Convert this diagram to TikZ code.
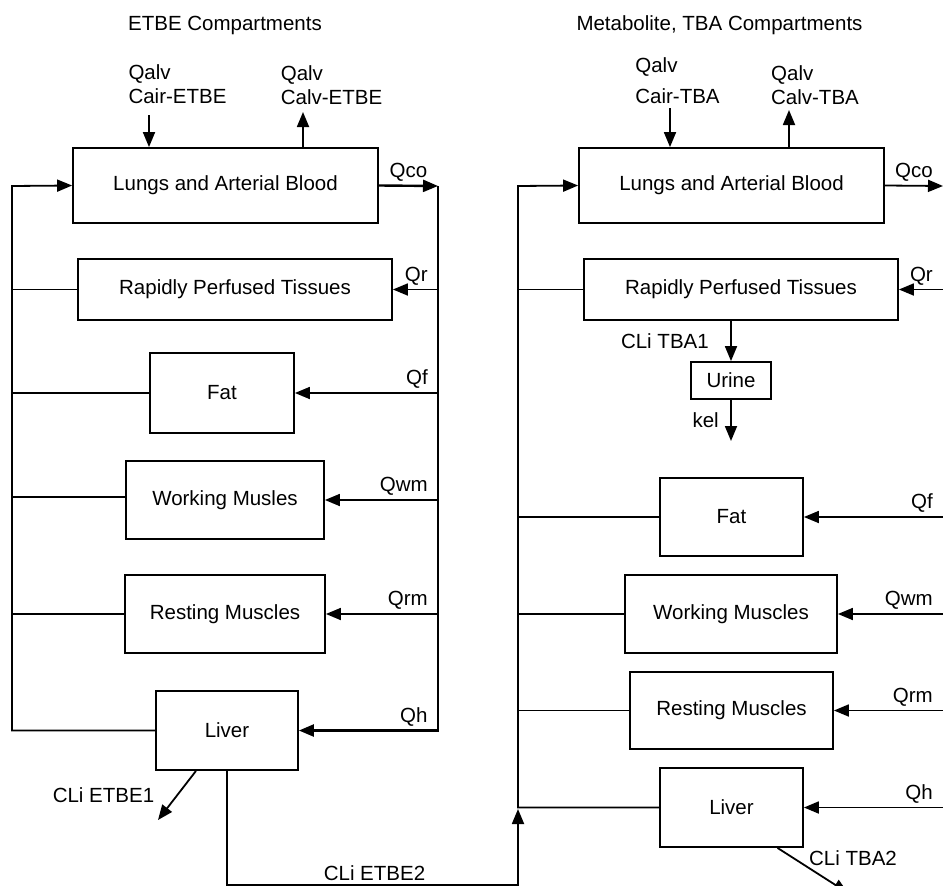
\documentclass[tikz,border=0pt]{standalone}
\usepackage{fontspec}
\setmainfont{Liberation Sans}
\usetikzlibrary{arrows.meta,positioning}

\begin{document}
\begin{tikzpicture}[x=1pt, y=-1pt, line width=1.8pt,
				>={Triangle[length=15pt,width=12pt]},
				box/.style={rectangle, draw, inner sep=0pt, font=\fontsize{20.5}{24}\selectfont, align=center},
				lbl/.style={font=\fontsize{20.5}{24}\selectfont, align=left}]
				\useasboundingbox (0,0) rectangle (943,886);
				
				% titles
				\node[lbl] (titleE) at (225,25) {ETBE Compartments};
				\node[lbl] (titleT) at (719.5,25) {Metabolite, TBA Compartments};
				
				% ETBE compartments
				\node[box, minimum width=305pt, minimum height=75pt] (lungE) at (225.5,185.5) {Lungs and Arterial Blood};
				\node[box, minimum width=314pt, minimum height=61pt] (rapidE) at (235,289.5) {Rapidly Perfused Tissues};
				\node[box, minimum width=144pt, minimum height=80pt] (fatE) at (222,393) {Fat};
				\node[box, minimum width=198pt, minimum height=78pt] (wmE) at (225,500) {Working Musles};
				\node[box, minimum width=200pt, minimum height=78pt] (rmE) at (225,614) {Resting Muscles};
				\node[box, minimum width=142pt, minimum height=79pt] (liverE) at (227,730.5) {Liver};
				
				\node[lbl] (inE) at (177.5,84) {Qalv\\Cair-ETBE};
				\node[lbl] (outE) at (331.5,85.5) {Qalv\\Calv-ETBE};
				\coordinate (cairE) at (149,115);
				\coordinate (calvE) at (303,112);
				\draw[->] (cairE) -- (cairE |- lungE.north);
				\draw[->] (calvE |- lungE.north) -- (calvE);
				
				\coordinate (eTL) at (12,186);
				\coordinate (eRT) at (438,186);
				\draw[->, line width=2.4pt] (lungE.east) -- node[lbl, above] {Qco} (eRT);
				\draw[->, line width=2.4pt] (eRT) -- (eRT |- liverE.east) node[lbl, above left, xshift=-6pt] {Qh} -- (liverE.east);
				\foreach \b/\q in {rapidE/Qr, fatE/Qf, wmE/Qwm, rmE/Qrm}
					\draw[->] (\b.east -| eRT) node[lbl, above left, xshift=-6pt] {\q} -- (\b.east);
				\draw[->] (liverE.west) -| (eTL) -- (lungE.west);
				\foreach \b in {rapidE, fatE, rmE}
					\draw (\b.west) -- (\b.west -| eTL);
				\draw ([yshift=3pt]wmE.west) -- ([yshift=3pt]wmE.west -| eTL);
				
				\coordinate (etbeOut) at (158,820);
				\draw[->] ([xshift=-31pt]liverE.south) -- (etbeOut);
				\node[lbl] (cliE1) at (103.5,795) {CLi ETBE1};
				
				\coordinate (tBL) at (518,885);
				\coordinate (tJoin) at (518,809);
				\draw[->] (liverE.south) |- (tBL) -- (tJoin);
				\node[lbl] (cliE2) at (374.5,873) {CLi ETBE2};
				
				% TBA compartments
				\node[box, minimum width=305pt, minimum height=75pt] (lungT) at (731.5,185.5) {Lungs and Arterial Blood};
				\node[box, minimum width=314pt, minimum height=61pt] (rapidT) at (741,289.5) {Rapidly Perfused Tissues};
				\node[box, minimum width=80pt, minimum height=37pt] (urine) at (731,380.5) {Urine};
				\node[box, minimum width=143pt, minimum height=78pt] (fatT) at (731.5,517) {Fat};
				\node[box, minimum width=212pt, minimum height=78pt] (wmT) at (731,614) {Working Muscles};
				\node[box, minimum width=203pt, minimum height=77pt] (rmT) at (731.5,710.5) {Resting Muscles};
				\node[box, minimum width=143pt, minimum height=79pt] (liverT) at (731.5,807.5) {Liver};
				
				\node[lbl] (inT) at (677.5,80.5) {Qalv\\[7pt]Cair-TBA};
				\node[lbl] (outT) at (815,85) {Qalv\\Calv-TBA};
				\coordinate (cairT) at (670,108);
				\coordinate (calvT) at (789,110);
				\draw[->] (cairT) -- (cairT |- lungT.north);
				\draw[->] (calvT |- lungT.north) -- (calvT);
				
				\coordinate (tTL) at (518,186);
				\coordinate (tRT) at (943,186);
				\draw[->] (lungT.east) -- node[lbl, above] {Qco} (tRT);
				\foreach \b/\q in {rapidT/Qr, fatT/Qf, wmT/Qwm, rmT/Qrm, liverT/Qh}
					\draw[->] (\b.east -| tRT) node[lbl, above left, xshift=-6pt] {\q} -- (\b.east);
				\draw[->] (liverT.west) -| (tTL) -- (lungT.west);
				\foreach \b in {rapidT, fatT, wmT, rmT}
					\draw (\b.west) -- (\b.west -| tTL);
				
				\coordinate (kelOut) at (731,441);
				\draw[->] (rapidT.south -| urine.north) -- node[lbl, left=18pt] {CLi TBA1} (urine.north);
				\draw[->] (urine.south) -- node[lbl, left=8pt] {kel} (kelOut);
				
				\coordinate (tbaOut) at (848,893);
				\draw[->] ([xshift=46pt]liverT.south) -- (tbaOut);
				\node[lbl] (cliT2) at (853,858) {CLi TBA2};
			\end{tikzpicture}
\end{document}
